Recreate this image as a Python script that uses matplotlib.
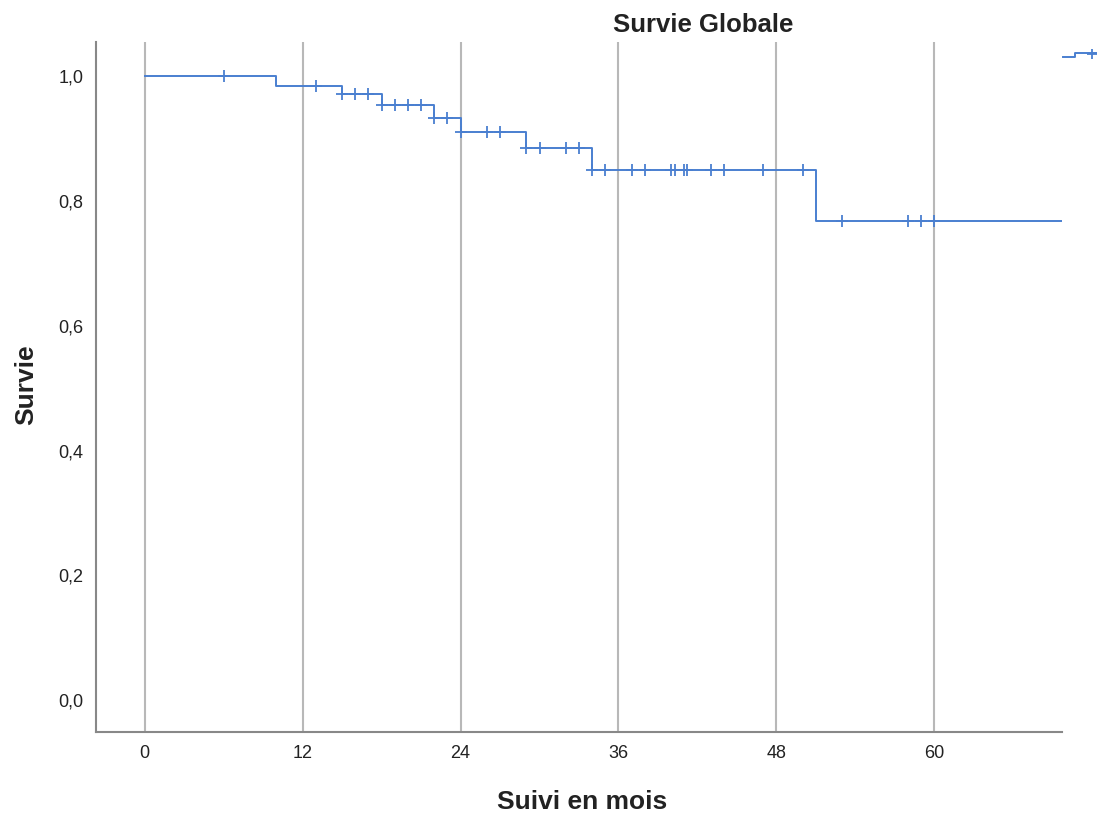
import numpy as np
import matplotlib.pyplot as plt
from matplotlib.lines import Line2D

plt.rcParams['font.family'] = ['Liberation Sans', 'DejaVu Sans']

# === Kaplan-Meier data ===
event_times = [0, 10, 15, 18, 22, 24, 29, 34, 51]
survival = [1.0, 0.984, 0.971, 0.954, 0.933, 0.910, 0.884, 0.850, 0.767]
censor_times = [6, 13, 15, 16, 17, 18, 19, 20, 21, 22, 23, 24, 26, 27,
                29, 30, 32, 33, 34, 35, 37, 38, 40, 40.3, 41, 41.2, 43, 44,
                47, 50, 53, 58, 59, 60]
end_time = 69.7

x_ticks = [0, 12, 24, 36, 48, 60]
y_ticks = [0.0, 0.2, 0.4, 0.6, 0.8, 1.0]
y_tick_labels = ["0,0", "0,2", "0,4", "0,6", "0,8", "1,0"]

blue = '#4a7fd0'

fig = plt.figure(figsize=(10.97, 8.16), dpi=100)
ax = fig.add_axes([96 / 1097, 1 - 732 / 816, (1062 - 96) / 1097, (732 - 42) / 816])

# step curve
xs = list(event_times) + [end_time]
ys = list(survival) + [survival[-1]]
ax.step(xs, ys, where='post', color=blue, lw=1.4, zorder=3)

# censor marks at the current level
idx = np.searchsorted(event_times, censor_times, side='right') - 1
cy = np.array(survival)[idx]
ax.plot(censor_times, cy, linestyle='none', marker='+', ms=8, mew=1.3,
        color=blue, zorder=4)

ax.set_xlim(-3.7, end_time)
ax.set_ylim(-0.051, 1.0545)
ax.set_xticks(x_ticks)
ax.set_xticklabels([str(t) for t in x_ticks])
ax.set_yticks(y_ticks)
ax.set_yticklabels(y_tick_labels)
ax.tick_params(length=0, labelsize=13, colors='#222222', pad=9)
ax.grid(axis='x', color='#b8b8b8', lw=1.5)
ax.set_axisbelow(True)

for s in ['top', 'right']:
    ax.spines[s].set_visible(False)
for s in ['left', 'bottom']:
    ax.spines[s].set_color('#888888')
    ax.spines[s].set_linewidth(1.5)

fig.text(582 / 1097, 1 - 802 / 816, "Suivi en mois", ha='center', va='center',
         fontsize=19, fontweight='bold', color='#222222')
fig.text(26 / 1097, 1 - 385 / 816, "Survie", ha='center', va='center',
         rotation=90, fontsize=19, fontweight='bold', color='#222222')
fig.text(703 / 1097, 1 - 25 / 816, "Survie Globale", ha='center', va='center',
         fontsize=18.5, fontweight='bold', color='#222222')

# legend glyph, cut at the right edge as in the reference
gx = np.array([1063, 1075, 1075, 1097]) / 1097
gy = 1 - np.array([57, 57, 53, 53]) / 816
fig.add_artist(Line2D(gx, gy, color=blue, lw=1.4, transform=fig.transFigure))
fig.add_artist(Line2D([1092 / 1097], [1 - 54 / 816], marker='+', ms=7, mew=1.3,
                      color=blue, transform=fig.transFigure))

fig.savefig("out.png", dpi=100)
